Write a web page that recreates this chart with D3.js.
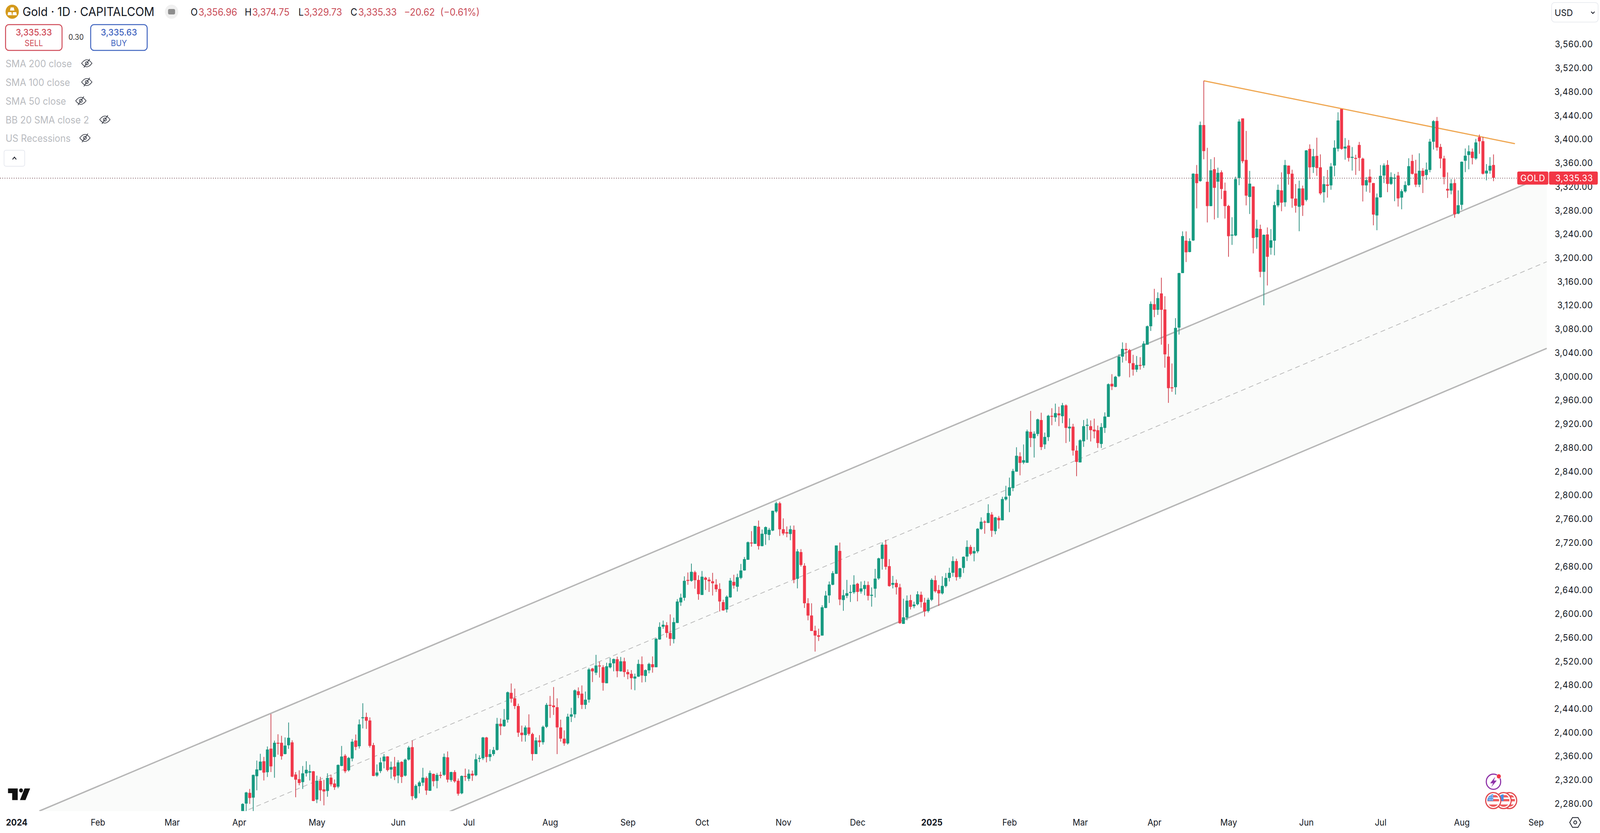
<!DOCTYPE html>
<html><head><meta charset="utf-8">
<script src="https://cdn.jsdelivr.net/npm/d3@7"></script>
<style>html,body{margin:0;padding:0;background:#fff;width:100%;height:100%;overflow:hidden}svg{display:block;width:100vw;height:100vh}text{font-family:Inter,"Noto Sans",sans-serif}</style>
</head><body><svg id="c" viewBox="0 0 4332 2132" preserveAspectRatio="none"></svg>
<script>
const opens=[2258,2280.6,2298.6,2290.5,2326.7,2336.6,2352,2333.3,2373.3,2359,
2383.1,2383.1,2364,2378.8,2383.8,2329.6,2321.7,2316.8,2331.6,2332.7,
2335.1,2287.2,2319.1,2304.5,2301.7,2324.3,2314.4,2309,2343.9,2361.2,
2336.6,2356.4,2386.9,2377.2,2424.8,2426.6,2420.7,2379.2,2327.8,2335.3,
2351.8,2360.1,2337.9,2343,2327.8,2350.9,2327.6,2354.8,2375.7,2289.9,
2309.8,2315.8,2323.7,2302.1,2330.5,2318.8,2328.9,2328.9,2358.6,2320.2,
2333.7,2319.1,2297.8,2327.2,2322.3,2330.9,2328.3,2356.6,2357,2392,
2359,2364,2371,2415,2411,2422,2467.2,2458,2445,2400,
2396,2409,2398,2364,2387,2384,2410,2447,2446,2443,
2409,2390,2382,2427,2431,2469.8,2466,2447,2455.7,2508.2,
2501.2,2513.3,2510.6,2483.4,2510.2,2517,2523.8,2503.4,2520.5,2502.3,
2499.4,2491.3,2494.6,2515.5,2495.7,2505.1,2515.5,2510.4,2557.2,2578.7,
2581.3,2568.1,2557.8,2585,2619.7,2627.4,2657.5,2655.9,2670.6,2657.5,
2632.2,2661.4,2658.1,2655.3,2649.6,2642.3,2620.2,2607.7,2628.1,2654.2,
2646.1,2661,2673.5,2691.5,2720.7,2718.3,2747.3,2714.6,2734.6,2733.5,
2740.7,2772.8,2786.8,2743.1,2738.1,2735,2742,2659.3,2704.5,2681.4,
2618.2,2597.6,2572.1,2564.2,2563.8,2610.3,2631.4,2649.4,2667.8,2706.5,
2623.7,2630.7,2636.2,2636.7,2651.2,2638,2642.2,2649,2630.7,2642.8,
2660,2692.9,2717,2680.8,2649.4,2652.5,2645,2583.5,2594.1,2623.5,
2613.2,2616.5,2632.5,2619.3,2605,2624.2,2657,2640.6,2634.9,2647.2,
2660.8,2669.6,2689.3,2662.5,2677.8,2696.9,2713.3,2702.2,2705.7,2743.3,
2755.9,2753.6,2767.7,2739.8,2762.1,2758,2793.3,2799.5,2812.4,2840,
2865.9,2855.3,2855,2907.1,2896.2,2903.5,2927.1,2885.9,2898.3,2934.1,
2931.5,2938.3,2933.5,2951.8,2913,2915.9,2875.6,2855.6,2891.2,2918,
2916.8,2910.9,2910,2886.8,2913.8,2932.4,2988.2,2982.9,3001,3034,
3047,3045,3023,3012,3020,3019,3054.1,3085.2,3122.3,3112.9,
3140.5,3113.4,3034.1,2982.2,2982.4,3082.8,3174.8,3229.4,3210.3,3229.7,
3342,3329.9,3424.3,3328.6,3287.6,3349.9,3328.8,3344.6,3313.5,3288,
3238.5,3238.1,3335,3435.5,3365.5,3303.1,3320.7,3235.2,3249.1,3176.9,
3239.9,3217.6,3229.4,3288.9,3314.1,3294.1,3356,3342.4,3300.3,3286.5,
3317.4,3298.1,3384.1,3353.4,3372.3,3353,3311,3324,3322.5,3356,
3384.4,3451.3,3384.8,3389.8,3369.9,3368.8,3390.7,3367.7,3322.5,3337.2,
3326.6,3271.8,3302.5,3339.2,3357.2,3325.1,3333.7,3339.2,3302,3312.4,
3322.9,3363.7,3342.7,3323.8,3347.3,3340,3348.6,3396.2,3431.3,3387.4,
3368.1,3316.8,3313.9,3326.6,3275,3289.8,3364,3373.8,3379.3,3367.9,
3403.9,3397.1,3342.7,3347.5,3356.96];
const highs=[2281,2300.4,2305.2,2329.4,2353.1,2364.5,2359.2,2376.8,2431.6,2386.7,
2397.4,2394.8,2392.1,2417.2,2387.3,2333.7,2336.6,2343.9,2352,2346,
2335.5,2327.6,2325.6,2320.6,2331.6,2329.4,2321.2,2346.5,2377.7,2364,
2359.2,2389.5,2397,2422.4,2449.7,2433.8,2425.9,2382.9,2346.5,2358.1,
2364,2360.5,2351.3,2359.2,2353.7,2352,2356.4,2377.7,2386.9,2313.1,
2318.8,2340.8,2326.3,2336.2,2331.1,2332.2,2334.2,2364.9,2368.4,2334.2,
2336.8,2322.8,2328,2339.5,2338.1,2336.2,2364.5,2361.9,2393,2393,
2372,2376,2425,2424,2440,2469.4,2483,2474.4,2449,2412,
2412,2431,2400,2392,2396,2412,2450,2462,2477,2458,
2422,2404,2432,2442,2473,2476.4,2479.7,2469.4,2509.3,2509.3,
2531.3,2519.8,2513.9,2518,2526.4,2525,2528.2,2527.7,2526.4,2506.7,
2505.6,2499.6,2523.1,2528.6,2506.7,2518,2528.6,2559.4,2586.1,2589,
2586.4,2599.5,2594,2625.2,2634.4,2663.6,2670,2685.1,2673,2665.4,
2672.6,2663,2662.1,2669.5,2658.8,2652,2624.2,2631.4,2660.8,2666.3,
2668,2684.5,2696.2,2722.3,2739.8,2748.6,2757.6,2742.5,2747.7,2745.1,
2774.1,2789.4,2789.4,2761.3,2747.7,2749,2749.3,2709.5,2709.5,2685.8,
2626.8,2618.2,2580.3,2575.4,2614.9,2638.9,2654.9,2672.4,2715.7,2720.5,
2641,2657.5,2649,2665.4,2652.7,2654.9,2656,2654.9,2645,2676.2,
2695,2720.7,2725.1,2692.6,2664.3,2658.2,2651,2625.9,2631.4,2632.5,
2620.9,2638.4,2637.8,2627.5,2627.5,2660.4,2664.8,2649,2663.7,2669.2,
2678,2697.3,2693.3,2678,2697.2,2724.2,2716.6,2713,2744.8,2763,
2758,2785.1,2771.8,2763.9,2765.4,2797.7,2816.2,2830,2844.8,2881.2,
2872.7,2885.9,2910.9,2942.4,2907.9,2929.4,2939.4,2905.9,2935.9,2947,
2954.7,2949.4,2955.9,2953.5,2930,2920.6,2883.9,2894.7,2927.1,2929.4,
2926.5,2929.4,2917.7,2921.8,2940,2988.8,3004.4,3001.5,3038,3058,
3057,3047,3037,3035,3033,3060,3086.4,3127,3148.2,3142.3,
3167,3135.8,3055.3,3022.4,3098.8,3175.3,3245.1,3245.1,3233.4,3343,
3356.9,3430.2,3498.9,3385.9,3366.8,3370.1,3352.5,3347.9,3327.3,3289.8,
3268.9,3337.2,3434,3435.5,3414.4,3347,3321,3264.6,3256.4,3239.9,
3251.7,3248.9,3295.2,3324,3344.6,3365.5,3356,3349,3324.9,3330.6,
3322.2,3382.2,3391.8,3384.1,3403,3374.9,3338,3348.6,3360.2,3398.6,
3445.8,3451.3,3402.4,3399.1,3387.2,3374.3,3395.8,3369.4,3336.5,3349.7,
3326.6,3308.9,3356.9,3359.6,3365.1,3344.6,3342,3345.3,3316.1,3329.5,
3368.3,3374.3,3365.7,3376.7,3351.7,3361.1,3401,3432.7,3437.9,3392.5,
3372.5,3344.4,3333.2,3333.2,3314.1,3362.9,3384.8,3390.1,3384.8,3401,
3408.3,3404.3,3358.5,3370.1,3374.75];
const lows=[2250,2262,2280,2266,2303,2336.6,2319.5,2325.4,2333.7,2324.1,
2363,2354.6,2363.6,2372.8,2325,2291.2,2311.4,2305.2,2326.1,2319.5,
2284.6,2281.3,2285,2277.6,2292,2309.6,2303.7,2306.5,2343.9,2332,
2334.6,2351.8,2370.6,2373.3,2407.3,2406.4,2375,2326.7,2325.6,2332,
2339.9,2334.6,2322.8,2320.2,2314.9,2315.3,2326.3,2353.1,2286.6,2287.9,
2297.8,2310.3,2295.1,2301.9,2309.6,2306.3,2323.2,2327.2,2316.2,2317.3,
2315.8,2293.8,2296.4,2318.8,2318.4,2318.8,2326.7,2350.4,2354,2350,
2352,2361,2370,2396,2410,2417,2450.7,2440,2393,2385,
2385,2395,2353,2364,2376,2380,2408,2425,2430,2364,
2385,2378,2380,2418,2425,2458.4,2440,2440,2450.7,2485.4,
2497.2,2493,2470.9,2483.4,2508.4,2503.4,2493.5,2503,2494,2490.2,
2472.9,2471.6,2494,2484.7,2485.4,2500.1,2501.2,2510.4,2556.7,2575.2,
2560.4,2546.6,2550.6,2585,2613.8,2622.6,2649.3,2654.6,2642.8,2624.1,
2632.2,2640.6,2637.3,2631.3,2637.3,2604.3,2605.5,2602.6,2627.5,2642.8,
2638,2658.8,2673.1,2691.5,2713.7,2718.3,2708.7,2714.2,2716.6,2724.5,
2739.8,2770.6,2731.7,2732.8,2729.5,2724.5,2652,2643.3,2680.1,2610.3,
2589.5,2571.5,2536.8,2554.6,2563.8,2609.9,2618.7,2648.7,2667.8,2615,
2605.5,2627,2620.4,2634,2621.5,2634.5,2631.8,2623,2612.5,2627.9,
2657.7,2674.9,2674.9,2646.1,2643.3,2633,2583.5,2583.5,2589.5,2607.7,
2609.9,2614.7,2611,2596,2602.6,2622,2636.2,2613.8,2633,2645,
2654.9,2663,2656.4,2659.5,2669.2,2689.5,2698.9,2688.9,2702.8,2741.9,
2735.4,2753.6,2730.1,2734.5,2743.9,2758,2791.2,2771.8,2807.1,2840,
2833.9,2852.7,2855,2881.5,2863.9,2900,2876.5,2878.3,2891.8,2918.3,
2924.1,2916.8,2921.8,2888.3,2890.6,2867.1,2832.4,2855.6,2881.8,2893.9,
2890.9,2896.2,2880,2880,2905.3,2932.4,2977.6,2982.4,2999.4,3024,
3027,2999.1,3002,3008,3012,3015,3054.1,3077.2,3100.5,3104.2,
3054.1,3015.3,2956,2974.6,2970,3071.1,3174.8,3193.4,3209.8,3229,
3283.8,3328.8,3366.6,3260.1,3287.6,3265.2,3267.8,3299.6,3266.7,3202.3,
3222.3,3237,3322.9,3360,3288.9,3274.4,3208,3215.7,3167.7,3120.5,
3153.9,3205.8,3204.7,3285.8,3279,3286.7,3323.8,3284.9,3276.6,3245.3,
3271.1,3295.5,3333.2,3343.5,3338.7,3306.4,3293.7,3302,3315.2,3338,
3379.8,3382.6,3365.9,3362.8,3347.5,3340.2,3347,3295.5,3312,3310.2,
3255.3,3247,3302,3326.6,3311.3,3323.4,3295.9,3286.9,3282.3,3310.2,
3321.8,3340.9,3319.8,3319.6,3309.7,3331.7,3344.6,3383,3381.1,3351.4,
3324.4,3301.4,3307.5,3268,3274,3281.6,3344.9,3349.7,3358,3365.5,
3375.8,3340.9,3331,3342.2,3329.73];
const closes=[2280,2299.3,2289.9,2328.9,2338.1,2351.3,2332.7,2371.7,2343.2,2383.1,
2382.3,2360.3,2378.3,2391.5,2325.9,2320.8,2315.3,2331.6,2337.5,2335.1,
2285,2319.1,2303,2301,2323.9,2312.9,2308.1,2345.8,2359.9,2335.1,
2357.5,2384.9,2376.1,2414.1,2426,2420.2,2377.9,2327.2,2332.9,2350,
2359.9,2337,2342.1,2326.1,2350,2325.4,2354.6,2375,2293.1,2310.5,
2316.2,2324.3,2302.6,2332.2,2318.2,2328.9,2328,2359.2,2320.8,2333.7,
2318,2297.1,2327.2,2326.3,2330.9,2327.8,2355.3,2357.5,2392,2359,
2364,2371,2415,2411,2422,2468.3,2457.3,2445,2400,2396,
2409,2398,2364,2387,2384,2410,2447,2446,2443,2409,
2390,2382,2427,2431,2471.5,2463.4,2447,2455.7,2506.7,2503.4,
2513.3,2511.7,2484,2512,2517.2,2524.2,2503.8,2520.5,2502.3,2498.5,
2492,2494.8,2515.9,2496.4,2505.6,2515.9,2510.4,2558.3,2578.4,2582,
2568.1,2558.3,2586.4,2621.2,2627.8,2656.1,2656.4,2671.3,2657,2633.5,
2663,2657.7,2655.3,2652,2641.7,2621.2,2606.2,2629.2,2656.4,2648.1,
2662.1,2673.5,2692.6,2721.2,2719.9,2748.6,2714.6,2735.4,2746.6,2742,
2774.1,2786.8,2742.9,2735.7,2735.7,2743.1,2657.7,2705.6,2682.8,2618.2,
2597.4,2571.5,2563.8,2561.8,2611.4,2631.2,2649.8,2668.9,2715.7,2624.4,
2631.8,2635.1,2637.3,2649.8,2637.3,2643.3,2649,2630.7,2632.5,2659.7,
2694,2717,2679.7,2647.2,2652.5,2645.2,2584.6,2594.5,2622.6,2612.1,
2616,2633.4,2620.4,2604.4,2624.2,2657.7,2638.4,2634.9,2647.6,2661,
2669.6,2689.3,2662.1,2677.2,2696.6,2713.3,2701.3,2706.3,2743.9,2755.7,
2754.8,2770.4,2740.4,2763,2758,2793.9,2797.7,2813.6,2841.2,2866.8,
2854.8,2859.5,2908,2896.8,2904.1,2928.3,2881.5,2898.6,2934.4,2933,
2938.8,2935,2952,2913.8,2915.9,2875.6,2856.5,2893,2916.8,2919.1,
2910,2907.9,2888.3,2915.3,2933,2987.6,2983.8,3000,3034,3047,
3045,3023,3012,3020,3019,3056,3085.2,3122.8,3112.9,3132.5,
3112.9,3037.7,2980.8,2981.2,3082.4,3174.8,3237.1,3209.8,3228.7,3342.4,
3326.4,3424.3,3380.4,3287.6,3347.9,3318.5,3343.8,3316.5,3287.6,3236.9,
3239.6,3333.2,3430.2,3363.3,3305.3,3325.5,3234,3249.8,3176.9,3239.2,
3202.3,3230,3289.3,3315,3293.5,3356.9,3341.6,3300.3,3288.2,3317.4,
3288.9,3381.5,3352.8,3371.6,3351.9,3309,3324.7,3321.8,3354.5,3386.1,
3432,3384.1,3387.9,3368.8,3370.7,3367.9,3368.8,3322.5,3331.5,3327.3,
3273.3,3302.3,3338.7,3356.3,3325.1,3336.5,3335.6,3300.7,3312.8,3323.3,
3355,3342,3323.8,3347.3,3338.3,3349.3,3396.4,3430.9,3386.3,3367.9,
3336.5,3313.9,3326,3274,3289.1,3362.4,3372.7,3380,3368.6,3395.1,
3396.9,3342.2,3347.5,3355.6,3335.33];
const barNumbers=d3.range(1,opens.length+1);

const priceTicks=d3.range(2280,3561,40);
const monthBars=[-63,-40,-19,0,22,45,65,88,110,131,154,175,196,218,238,259,280,302,323,346,367];
const monthLabels=["2024","Feb","Mar","Apr","May","Jun","Jul","Aug","Sep","Oct","Nov","Dec","2025","Feb","Mar","Apr","May","Jun","Jul","Aug","Sep"];

const channelBars=[-56.54,370.06];
const channelUpper=[2268,3339.8];
const channelLower=[1975.1,3047.9];
const channelMiddle=[2121.5,3193.9];
const trendBars=[273,361.06];
const trendPrices=[3498.9,3392.9];
const lastClose=3335.33;
const ohlcItems=[["O",516],["3,356.96",537.5,1],["H",662.5],["3,374.75",683,1],["L",808],["3,329.73",823,1],["C",949],["3,335.33",970,1],["\u221220.62",1094,1],["(\u22120.61%)",1192,1]];
const studies=[["SMA 200 close",235,172],["SMA 100 close",235,220],["SMA 50 close",219,268],["BB 20 SMA close 2",284,316],["US Recessions",230,363]];

const plotR=4192,plotB=2075.7;
const x=d3.scaleLinear().domain([1,355]).range([657,4043.7]);
const y=d3.scaleLinear().domain([3560,2280]).range([114,2057.55]);
const svg=d3.select("#c");
const ink="#131722",up="#179a81",down="#f0384a",upWick="#2a9080",downWick="#cf4450",priceRed="#c94c57";

svg.append("defs").append("clipPath").attr("id","plot").append("rect").attr("x",0).attr("y",0).attr("width",plotR).attr("height",plotB);
const plot=svg.append("g").attr("clip-path","url(#plot)");

const ch=channelBars.map((b,i)=>({b,u:channelUpper[i],l:channelLower[i],m:channelMiddle[i]}));
plot.append("path").datum(ch).attr("fill","#fafbfa")
 .attr("d",d3.area().x(d=>x(d.b)).y0(d=>y(d.l)).y1(d=>y(d.u)));
const lineOf=k=>d3.line().x(d=>x(d.b)).y(d=>y(d[k]));
plot.append("path").datum(ch).attr("d",lineOf("u")).attr("fill","none").attr("stroke","#b6b6b6").attr("stroke-width",3.6);
plot.append("path").datum(ch).attr("d",lineOf("l")).attr("fill","none").attr("stroke","#b6b6b6").attr("stroke-width",3.6);
plot.append("path").datum(ch).attr("d",lineOf("m")).attr("fill","none").attr("stroke","#bdbdbd").attr("stroke-width",2).attr("stroke-dasharray","13 9.6");
const tr=trendBars.map((b,i)=>({b,p:trendPrices[i]}));
plot.append("path").datum(tr).attr("d",lineOf("p")).attr("fill","none").attr("stroke","#efa650").attr("stroke-width",3);

const bars=plot.append("g").selectAll("g").data(barNumbers).join("g");
const isUp=n=>closes[n-1]>=opens[n-1];
bars.append("line").attr("x1",n=>x(n)).attr("x2",n=>x(n))
 .attr("y1",n=>y(highs[n-1])).attr("y2",n=>y(lows[n-1]))
 .attr("stroke",n=>isUp(n)?upWick:downWick).attr("stroke-width",2);
bars.append("rect").attr("x",n=>x(n)-4).attr("width",8)
 .attr("y",n=>y(Math.max(opens[n-1],closes[n-1])))
 .attr("height",n=>Math.max(2.5,Math.abs(y(opens[n-1])-y(closes[n-1]))))
 .attr("rx",.8).attr("fill",n=>isUp(n)?up:down);

svg.append("line").attr("x1",0).attr("x2",4108).attr("y1",y(lastClose)+.8).attr("y2",y(lastClose)+.8)
 .attr("stroke","#7f5a60").attr("stroke-width",2).attr("stroke-dasharray","2 4.2");

// axes
const yAxis=svg.append("g").attr("transform","translate(4313,0)")
 .call(d3.axisRight(y).tickValues(priceTicks).tickFormat(d3.format(",.2f")).tickSize(0).tickPadding(0));
yAxis.select(".domain").remove();
yAxis.selectAll("text").attr("text-anchor","end").attr("font-size",23).attr("letter-spacing",.75).attr("fill",ink).attr("dy","0.3em").style("font-family","Inter");

const xAxis=svg.append("g").attr("transform","translate(0,2113)")
 .call(d3.axisBottom(x).tickValues(monthBars).tickFormat((d,i)=>monthLabels[i]).tickSize(0).tickPadding(0));
xAxis.select(".domain").remove();
xAxis.selectAll("text").attr("y",0).attr("dy",0).attr("font-size",22.5).attr("fill",ink)
 .attr("font-weight",(d,i)=>/^20/.test(monthLabels[i])?700:400).style("font-family","Inter");

// price labels
svg.append("rect").attr("x",4108).attr("y",439).attr("width",84).attr("height",33.5).attr("rx",4).attr("fill","#f23645");
svg.append("rect").attr("x",4194).attr("y",439).attr("width",132).attr("height",33.5).attr("rx",4).attr("fill","#f23645");
svg.append("text").attr("x",4150).attr("y",464).attr("text-anchor","middle").attr("font-size",23).attr("letter-spacing",.8).attr("fill","#fff").text("GOLD");
svg.append("text").attr("x",4313).attr("y",464).attr("text-anchor","end").attr("font-size",23).attr("letter-spacing",.75).attr("fill","#fff").text(d3.format(",.2f")(lastClose));

// USD selector
svg.append("rect").attr("x",4201).attr("y",6.5).attr("width",126).attr("height",50).attr("rx",8).attr("fill","#fff").attr("stroke","#e3e6ec").attr("stroke-width",1.5);
svg.append("text").attr("x",4209).attr("y",41).attr("font-size",23.5).attr("fill",ink).text("USD");
svg.append("path").attr("d","M4308 30 l4.7 4.5 l4.7 -4.5").attr("fill","none").attr("stroke",ink).attr("stroke-width",2);

// header
const logo=svg.append("g").attr("transform","translate(33,30)");
logo.append("circle").attr("r",18).attr("fill","#d49a1c");
logo.append("path").attr("d","M-4 -11 h8 l2 8 h-12 z M-11 1 h9 l1.5 8 h-12 z M2 1 h9 l1.5 8 h-12 z").attr("fill","#fff");
svg.append("text").attr("x",61).attr("y",41).attr("font-size",31).attr("fill",ink).text("Gold \u00b7 1D \u00b7 CAPITALCOM");
svg.append("circle").attr("cx",464.5).attr("cy",30).attr("r",18).attr("fill","#f0f0f0");
svg.append("rect").attr("x",455).attr("y",23).attr("width",19).attr("height",14).attr("rx",4).attr("fill","#8d8d8d");
svg.selectAll(".oh").data(ohlcItems).join("text").attr("class","oh").attr("x",d=>d[1]).attr("y",40).attr("font-size",25)
 .attr("fill",d=>d[2]?priceRed:ink).text(d=>d[0]);

// sell/buy
svg.append("rect").attr("x",15).attr("y",63).attr("width",153).attr("height",66).attr("rx",9).attr("fill","#fff").attr("stroke","#cf4a57").attr("stroke-width",2.6);
svg.append("text").attr("x",91.5).attr("y",91).attr("text-anchor","middle").attr("font-size",23).attr("font-weight",500).attr("fill","#cf4a57").text("3,335.33");
svg.append("text").attr("x",91.5).attr("y",118).attr("text-anchor","middle").attr("font-size",21).attr("fill","#cf4a57").text("SELL");
svg.append("text").attr("x",206).attr("y",102).attr("text-anchor","middle").attr("font-size",19.5).attr("fill","#333").text("0.30");
svg.append("rect").attr("x",245.5).attr("y",63).attr("width",153).attr("height",66).attr("rx",9).attr("fill","#fff").attr("stroke","#3f64bf").attr("stroke-width",2.6);
svg.append("text").attr("x",322).attr("y",91).attr("text-anchor","middle").attr("font-size",23).attr("font-weight",500).attr("fill","#3f64bf").text("3,335.63");
svg.append("text").attr("x",322).attr("y",118).attr("text-anchor","middle").attr("font-size",21).attr("fill","#3f64bf").text("BUY");

// study legend
const st=svg.selectAll(".st").data(studies).join("g").attr("class","st");
st.append("text").attr("x",15).attr("y",d=>d[2]).attr("font-size",25).attr("fill","#b9bbbf").text(d=>d[0]);
const eye=st.append("g").attr("transform",d=>`translate(${d[1]},${d[2]-10})`).attr("fill","none").attr("stroke","#2a2e39").attr("stroke-width",1.7);
eye.append("path").attr("d","M-14 0 Q-7 -9 0 -9 Q7 -9 14 0 Q7 9 0 9 Q-7 9 -14 0 Z");
eye.append("circle").attr("r",4);
eye.append("line").attr("x1",-8).attr("y1",11).attr("x2",8).attr("y2",-11);

// collapse
svg.append("rect").attr("x",11).attr("y",384.5).attr("width",56).attr("height",41).attr("rx",5).attr("fill","#fff").attr("stroke","#e0e3eb").attr("stroke-width",1.5);
svg.append("path").attr("d","M34 408 l5 -6 l5 6").attr("fill","none").attr("stroke",ink).attr("stroke-width",2);

// TV logo
svg.append("path").attr("d","M21.7 2018 H48 V2047.7 H33 V2030 H21.7 Z M81.6 2018 L69 2047.7 H54 L66.5 2018 Z").attr("fill","#111");
svg.append("circle").attr("cx",57).attr("cy",2023).attr("r",5.2).attr("fill","#111");

// bottom-right icons
const bolt=svg.append("g").attr("transform","translate(4043.6,2000.7)");
bolt.append("circle").attr("r",19.5).attr("fill","#fff").attr("stroke","#8e32a8").attr("stroke-width",3);
bolt.append("path").attr("d","M5 -13 L-9 4 H-1 L-6 14 L9 -3 H1 Z").attr("fill","#8e32a8");
svg.append("circle").attr("cx",4058).attr("cy",1987).attr("r",6).attr("fill","#f23645").attr("stroke","#fff").attr("stroke-width",1);
const flagDefs=svg.select("defs");
[4086,4071,4043].forEach((cx,i)=>{
 const id="fl"+i;
 flagDefs.append("clipPath").attr("id",id).append("circle").attr("cx",cx).attr("cy",2049).attr("r",16);
 svg.append("circle").attr("cx",cx).attr("cy",2049).attr("r",20.5).attr("fill","#fff").attr("stroke","#e24b50").attr("stroke-width",3.2);
 const f=svg.append("g").attr("clip-path",`url(#${id})`);
 f.append("rect").attr("x",cx-16).attr("y",2033).attr("width",32).attr("height",32).attr("fill","#fff");
 [2035,2045,2055].forEach(s=>f.append("rect").attr("x",cx-16).attr("y",s+ (s==2055?4:0)).attr("width",32).attr("height",s==2055?7:6).attr("fill","#ef5d5f"));
 f.append("rect").attr("x",cx-16).attr("y",2033).attr("width",16).attr("height",17).attr("fill","#4a90e2");
});
for(let r=0;r<3;r++)for(let c=0;c<3;c++)svg.append("circle").attr("cx",4032+c*4.5).attr("cy",2037+r*5).attr("r",1.3).attr("fill","#fff");

// settings
svg.append("path").attr("d","M4250 2105 l7.5 -12.5 h15 l7.5 12.5 l-7.5 12.5 h-15 Z").attr("fill","none").attr("stroke",ink).attr("stroke-width",2);
svg.append("circle").attr("cx",4265).attr("cy",2105).attr("r",4).attr("fill","none").attr("stroke",ink).attr("stroke-width",2);
</script></body></html>
